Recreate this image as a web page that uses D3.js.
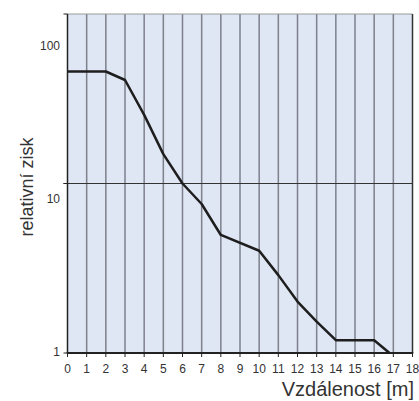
<!DOCTYPE html>
<html><head><meta charset="utf-8">
<script src="https://cdn.jsdelivr.net/npm/d3@7"></script>
<style>body{margin:0;background:#fff}svg{display:block}text{font-family:"Liberation Sans",Arial,sans-serif}</style>
</head><body>
<script>
const distance = [0, 2, 3, 4, 5, 6, 7, 8, 10, 11, 12, 13, 14, 16, 16.8];
const gain = [45.8, 45.8, 40.8, 25.4, 14.9, 10.0, 7.57, 4.97, 4.01, 2.88, 2.01, 1.53, 1.19, 1.19, 1.0];
const xTicks = d3.range(0, 19);
const yTicks = [1, 10, 100];
const xTitle = "Vzdálenost [m]";
const yTitle = "relativní zisk";

const W = 419, H = 401;
const m = {l: 67.5, r: 412.5, t: 14, b: 353};
const svg = d3.select("body").append("svg").attr("width", W).attr("height", H);
const x = d3.scaleLinear().domain([0, 18]).range([m.l, m.r]);
const y = d3.scaleLog().domain([1, 100]).range([m.b, m.t]);
// tick labels in the reference sit on a slightly different log spacing
const yLab = d3.scaleLog().domain([1, 100]).range([352, 46]);

svg.append("rect").attr("x", m.l).attr("y", m.t).attr("width", m.r - m.l).attr("height", m.b - m.t).attr("fill", "#dfe6f4");

// vertical grid
svg.append("g").selectAll("line").data(xTicks.filter(d => d > 0 && d < 18)).join("line")
  .attr("x1", d => x(d)).attr("x2", d => x(d)).attr("y1", m.t).attr("y2", m.b)
  .attr("stroke", "#7d818b").attr("stroke-width", 1.5);

// top border
svg.append("line").attr("x1", m.l).attr("x2", m.r).attr("y1", m.t).attr("y2", m.t).attr("stroke", "#9a9a9a").attr("stroke-width", 1);
// right border
svg.append("line").attr("x1", m.r).attr("x2", m.r).attr("y1", m.t).attr("y2", m.b).attr("stroke", "#333").attr("stroke-width", 1.5);

// horizontal line at 10
svg.append("line").attr("x1", m.l - 4).attr("x2", m.r).attr("y1", y(10)).attr("y2", y(10)).attr("stroke", "#333").attr("stroke-width", 1);

// y axis
svg.append("line").attr("x1", m.l).attr("x2", m.l).attr("y1", m.t).attr("y2", m.b).attr("stroke", "#222").attr("stroke-width", 1.5);
svg.append("g").selectAll("line").data(yTicks).join("line")
  .attr("x1", m.l - 4).attr("x2", m.l).attr("y1", d => y(d)).attr("y2", d => y(d))
  .attr("stroke", "#222").attr("stroke-width", 1);
svg.append("g").selectAll("text").data(yTicks).join("text")
  .attr("x", 60).attr("y", d => yLab(d)).attr("dy", "0.35em").attr("text-anchor", "end")
  .attr("font-size", 12).attr("fill", "#333").text(d => d);

// x axis
svg.append("line").attr("x1", m.l - 0.75).attr("x2", m.r + 0.75).attr("y1", m.b).attr("y2", m.b).attr("stroke", "#222").attr("stroke-width", 1.8);
svg.append("g").selectAll("line").data(xTicks).join("line")
  .attr("x1", d => x(d)).attr("x2", d => x(d)).attr("y1", m.b).attr("y2", m.b + 4)
  .attr("stroke", "#222").attr("stroke-width", 1);
svg.append("g").selectAll("text").data(xTicks).join("text")
  .attr("x", d => x(d)).attr("y", 368.5).attr("dy", "0.35em").attr("text-anchor", "middle")
  .attr("font-size", 12).attr("fill", "#333").text(d => d);

// data line
svg.append("path").datum(distance.map((d, i) => [d, gain[i]]))
  .attr("d", d3.line().x(d => x(d[0])).y(d => y(d[1])))
  .attr("fill", "none").attr("stroke", "#1e1e1e").attr("stroke-width", 2.5).attr("stroke-linejoin", "round");

// titles
svg.append("text").attr("x", 414).attr("y", 396).attr("text-anchor", "end")
  .attr("font-size", 20).attr("fill", "#333").text(xTitle);
svg.append("text").attr("transform", "translate(33,187) rotate(-90)").attr("text-anchor", "middle")
  .attr("font-size", 18).attr("fill", "#333").text(yTitle);
</script>
</body></html>
